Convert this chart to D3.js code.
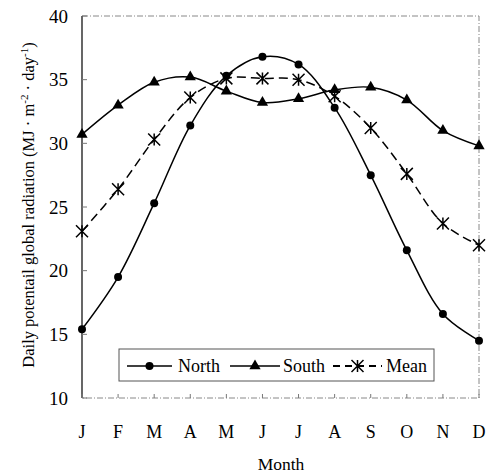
<!DOCTYPE html>
<meta charset="utf-8">
<style>
	body { margin: 0; background: #fff; }
	text { font-family: "Liberation Serif", "Times New Roman", serif; fill: #000; }
	.tick-label { font-size: 19px; }
	.leg-label { font-size: 18px; }
	.frame { stroke: #888; stroke-width: 1; fill: none; stroke-dasharray: 6 2 1 2; }
	.series { fill: none; stroke: #000; stroke-width: 1.5; }
</style>
<body>
<script src="https://d3js.org/d3.v7.min.js"></script>
<script>

	var months = ["J", "F", "M", "A", "M", "J", "J", "A", "S", "O", "N", "D"];
	var north = [15.4, 19.5, 25.3, 31.4, 35.3, 36.8, 36.2, 32.8, 27.5, 21.6, 16.6, 14.5];
	var south = [30.7, 33.0, 34.8, 35.2, 34.1, 33.2, 33.5, 34.2, 34.4, 33.4, 31.0, 29.8];
	var mean = [23.1, 26.4, 30.3, 33.6, 35.1, 35.1, 35.0, 33.7, 31.2, 27.6, 23.7, 22.0];
	var yTicks = [10, 15, 20, 25, 30, 35, 40];

	var width = 488,
		height = 473;

	var svg = d3.select("body").append("svg")
		.attr("width", width)
		.attr("height", height);

	var x = d3.scalePoint()
		.domain(d3.range(months.length))
		.range([82, 479]);

	var y = d3.scaleLinear()
		.domain([10, 40])
		.range([398, 16]);

	// frame: top, right, bottom grey dashed, left solid
	svg.append("path")
		.attr("class", "frame")
		.attr("d", "M" + x(0) + "," + y(40) + "H" + x(11) + "V" + y(10) + "H" + x(0));
	svg.append("line")
		.attr("x1", x(0)).attr("x2", x(0))
		.attr("y1", y(40)).attr("y2", y(10))
		.attr("stroke", "#000").attr("stroke-width", 1.2);

	// y ticks
	svg.selectAll(".ytick")
		.data(yTicks)
		.enter().append("line")
		.attr("x1", x(0)).attr("x2", x(0) + 5)
		.attr("y1", function(d) { return y(d); })
		.attr("y2", function(d) { return y(d); })
		.attr("stroke", "#777");

	svg.selectAll(".ylab")
		.data(yTicks)
		.enter().append("text")
		.attr("class", "tick-label")
		.attr("x", 68)
		.attr("y", function(d) { return y(d); })
		.attr("dy", "0.35em")
		.attr("text-anchor", "end")
		.text(function(d) { return d; });

	// x ticks
	svg.selectAll(".xtick")
		.data(d3.range(months.length))
		.enter().append("line")
		.attr("x1", function(d) { return x(d); })
		.attr("x2", function(d) { return x(d); })
		.attr("y1", y(10)).attr("y2", y(10) - 4)
		.attr("stroke", "#777");

	svg.selectAll(".xlab")
		.data(months)
		.enter().append("text")
		.attr("class", "tick-label")
		.style("font-size", "18px")
		.attr("x", function(d, i) { return x(i); })
		.attr("y", 438)
		.attr("text-anchor", "middle")
		.text(function(d) { return d; });

	svg.append("text")
		.attr("x", 281)
		.attr("y", 470)
		.attr("text-anchor", "middle")
		.style("font-size", "17.5px")
		.text("Month");

	var ylab = svg.append("text")
		.attr("transform", "translate(34,205) rotate(-90)")
		.attr("text-anchor", "middle")
		.style("font-size", "16.5px");
	ylab.append("tspan").text("Daily potentail global radiation (MJ \u00b7 m");
	ylab.append("tspan").attr("dy", -6).style("font-size", "11px").text("-2");
	ylab.append("tspan").attr("dy", 6).text(" \u00b7 day");
	ylab.append("tspan").attr("dy", -6).style("font-size", "11px").text("-1");
	ylab.append("tspan").attr("dy", 6).text(")");

	var line = d3.line()
		.x(function(d, i) { return x(i); })
		.y(function(d) { return y(d); })
		.curve(d3.curveCatmullRom.alpha(0.5));

	function circle(g) {
		g.append("circle").attr("r", 4).attr("fill", "#000");
	}
	function triangle(g) {
		g.append("path").attr("d", d3.symbol().type(d3.symbolTriangle).size(55)()).attr("fill", "#000");
	}
	function star(g) {
		var s = 6;
		g.append("path")
			.attr("d", "M" + (-s) + "," + (-s) + "L" + s + "," + s + "M" + (-s) + "," + s + "L" + s + "," + (-s) + "M0," + (-s) + "V" + s)
			.attr("stroke", "#000").attr("stroke-width", 1.5).attr("fill", "none");
	}

	var series = [
		{ name: "North", values: north, marker: circle, dash: null },
		{ name: "South", values: south, marker: triangle, dash: null },
		{ name: "Mean", values: mean, marker: star, dash: "9 5" }
	];

	series.forEach(function(s) {
		svg.append("path")
			.attr("class", "series")
			.attr("d", line(s.values))
			.attr("stroke-dasharray", s.dash)
			.attr("stroke-width", s.dash ? 2 : 1.5);
		svg.selectAll(null)
			.data(s.values)
			.enter().append("g")
			.attr("transform", function(d, i) { return "translate(" + x(i) + "," + y(d) + ")"; })
			.each(function() { s.marker(d3.select(this)); });
	});

	// legend
	var legend = svg.append("g");
	legend.append("rect")
		.attr("x", 119).attr("y", 349)
		.attr("width", 315).attr("height", 32)
		.attr("fill", "#fff").attr("stroke", "#555").attr("stroke-width", 1);

	var legendPos = [
		{ x1: 127, x2: 172, tx: 178 },
		{ x1: 230, x2: 280, tx: 283 },
		{ x1: 333, x2: 382, tx: 386 }
	];

	series.forEach(function(s, i) {
		var p = legendPos[i];
		var ly = 366;
		legend.append("line")
			.attr("x1", p.x1).attr("x2", p.x2)
			.attr("y1", ly).attr("y2", ly)
			.attr("stroke", "#000")
			.attr("stroke-width", s.dash ? 2 : 1.5)
			.attr("stroke-dasharray", s.dash ? "7 5" : null);
		var m = legend.append("g").attr("transform", "translate(" + ((p.x1 + p.x2) / 2) + "," + ly + ")");
		s.marker(m);
		legend.append("text")
			.attr("class", "leg-label")
			.attr("x", p.tx)
			.attr("y", ly)
			.attr("dy", "0.35em")
			.text(s.name);
	});
</script>
